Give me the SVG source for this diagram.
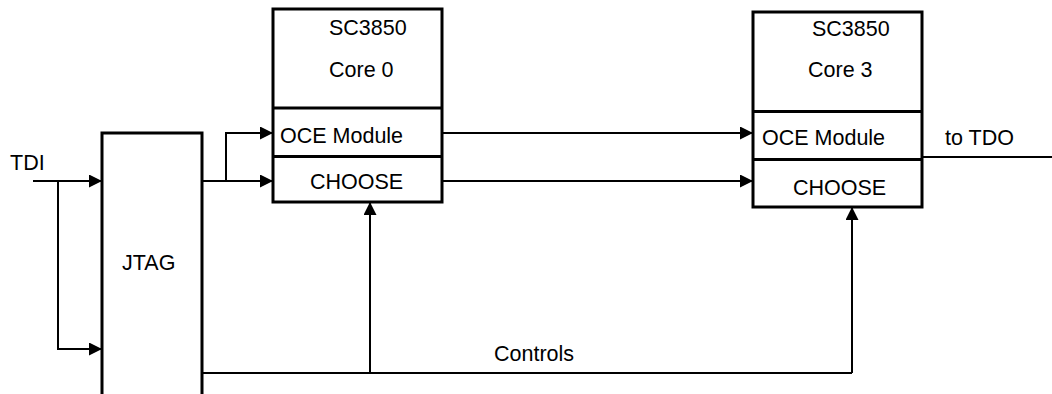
<svg xmlns="http://www.w3.org/2000/svg" width="1052" height="394" viewBox="0 0 1052 394">
<style>
text{font-family:"Liberation Sans",Arial,sans-serif;font-size:21.5px;fill:#000}
.box{fill:#fff;stroke:#000;stroke-width:3}
.div{stroke:#000;stroke-width:3;fill:none}
.wire{stroke:#000;stroke-width:2;fill:none}
</style>
<defs>
<marker id="ah" markerUnits="userSpaceOnUse" markerWidth="13" markerHeight="13" refX="13" refY="6.5" orient="auto">
<path d="M0,0 L13,6.5 L0,13 z" fill="#000"/>
</marker>
</defs>
<g id="connectors">
<polyline class="wire" points="33,181 102,181" marker-end="url(#ah)"/>
<polyline class="wire" points="58,181 58,349 102,349" marker-end="url(#ah)"/>
<polyline class="wire" points="202,181 273,181" marker-end="url(#ah)"/>
<polyline class="wire" points="226,181 226,133 273,133" marker-end="url(#ah)"/>
<polyline class="wire" points="442,133 753,133" marker-end="url(#ah)"/>
<polyline class="wire" points="442,181 753,181" marker-end="url(#ah)"/>
<polyline class="wire" points="922,157 1052,157"/>
<polyline class="wire" points="202,373 852,373"/>
<polyline class="wire" points="370,373 370,202" marker-end="url(#ah)"/>
<polyline class="wire" points="852,373 852,207" marker-end="url(#ah)"/>
</g>
<g id="jtag">
<path class="div" d="M102,394 L102,133 L202,133 L202,394"/>
<text x="122" y="270">JTAG</text>
</g>
<g id="tdi">
<text x="10" y="170">TDI</text>
</g>
<g id="core0">
<rect class="box" x="273" y="9" width="169" height="193"/>
<line class="div" x1="273" y1="108" x2="442" y2="108"/>
<line class="div" x1="273" y1="156.5" x2="442" y2="156.5"/>
<text x="329" y="35">SC3850</text>
<text x="329" y="77">Core 0</text>
<text x="280" y="143">OCE Module</text>
<text x="310" y="189">CHOOSE</text>
</g>
<g id="core3">
<rect class="box" x="753" y="12" width="169" height="195"/>
<line class="div" x1="753" y1="111.5" x2="922" y2="111.5"/>
<line class="div" x1="753" y1="159.5" x2="922" y2="159.5"/>
<text x="812" y="36">SC3850</text>
<text x="808" y="77">Core 3</text>
<text x="762" y="145">OCE Module</text>
<text x="793" y="195">CHOOSE</text>
</g>
<g id="labels">
<text x="945" y="145">to TDO</text>
<text x="494" y="361">Controls</text>
</g>
</svg>
